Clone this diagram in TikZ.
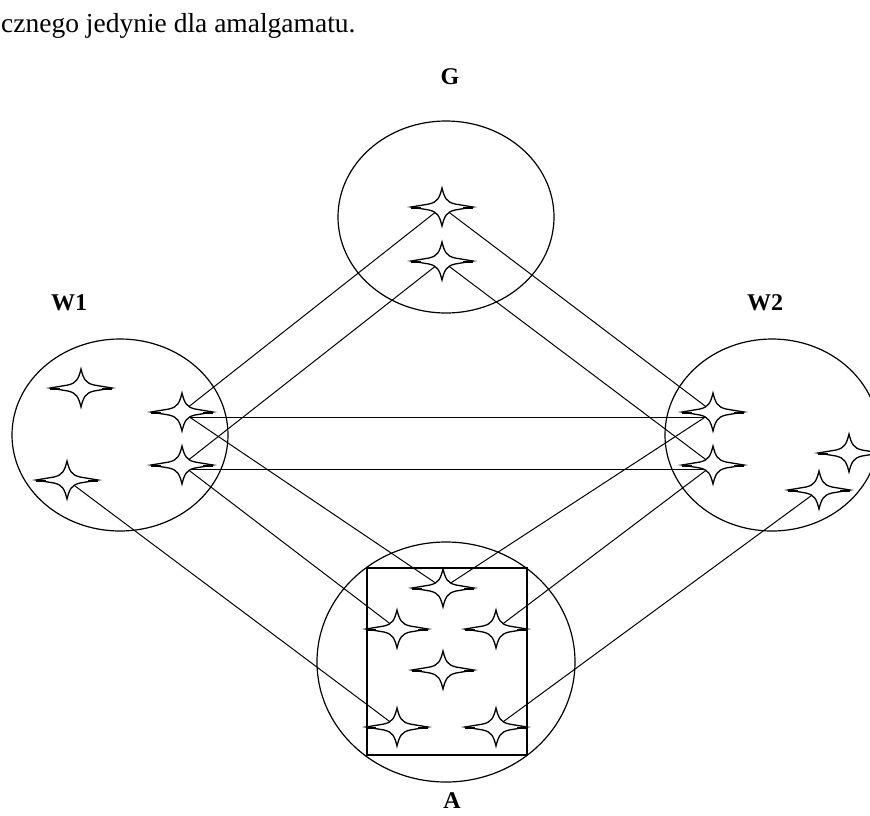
\documentclass[tikz,border=0pt]{standalone}
\usepackage{fontspec}
\setmainfont{Liberation Serif}
\usetikzlibrary{shapes.geometric}
\begin{document}
\begin{tikzpicture}[x=1pt,y=-1pt,
  ring/.style={draw, ellipse, line width=1.2pt, inner sep=0pt},
  box/.style={draw, line width=1.5pt},
  link/.style={line width=1pt},
  lbl/.style={font=\bfseries\fontsize{24}{26}\selectfont, inner sep=0pt},
  fourstar/.pic={
    \draw[fill=white, line width=1.3pt, line join=miter]
      (0,-19) .. controls (2.5,-9) and (4.5,-5) .. (13,-3) -- (31,0)
      -- (13,3) .. controls (4.5,5) and (2.5,9) .. (0,19)
      .. controls (-2.5,9) and (-4.5,5) .. (-13,3) -- (-31,0)
      -- (-13,-3) .. controls (-4.5,-5) and (-2.5,-9) .. (0,-19) -- cycle;
    \draw[line width=2pt] (-31,0.5) -- (-21,0.5) (21,0.5) -- (31,0.5);
  }]
\useasboundingbox (0,0) rectangle (870,815);
\fill[white] (0,0) rectangle (870,815);

% top text
\node[anchor=base west, inner sep=0pt, font=\fontsize{27.5}{30}\selectfont] (txt) at (1,32) {cznego jedynie dla amalgamatu.};

% circles
\node[ring, minimum width=216pt, minimum height=192pt] (G) at (446,217) {};
\node[ring, minimum width=216pt, minimum height=192pt] (W1) at (120,435) {};
\node[ring, minimum width=214pt, minimum height=192pt] (W2) at (772,435) {};
\node[ring, minimum width=258pt, minimum height=240pt] (A) at (446,662) {};
\node[box, minimum width=160pt, minimum height=187pt, inner sep=0pt] (Abox) at (447,661.5) {};

% labels
\node[lbl] (lG) at (450,77) {G};
\node[lbl] (lW1) at (69,303) {W1};
\node[lbl] (lW2) at (765,303) {W2};
\node[lbl] (lA) at (452,801) {A};

% star positions
\coordinate (g1) at (442,207);
\coordinate (g2) at (442,261);
\coordinate (u1) at (81,388);
\coordinate (u2) at (182,412);
\coordinate (u3) at (182,465);
\coordinate (u4) at (67,480);
\coordinate (v1) at (713,412);
\coordinate (v2) at (713,465);
\coordinate (v3) at (849,453);
\coordinate (v4) at (819,490);
\coordinate (a1) at (443,588);
\coordinate (a2) at (397,629);
\coordinate (a3) at (496,629);
\coordinate (a4) at (443,670);
\coordinate (a5) at (397,727);
\coordinate (a6) at (496,727);

% connectors
\draw[link] (g1) -- (u2);
\draw[link] (g2) -- (u3);
\draw[link] (g1) -- (v1);
\draw[link] (g2) -- (v2);
\draw[link] ([yshift=-5pt]u2) -- ([yshift=-5pt]v1);
\draw[link] ([yshift=-4pt]u3) -- ([yshift=-4pt]v2);
\draw[link] (u2) -- (a1);
\draw[link] (u3) -- (a2);
\draw[link] (u4) -- (a5);
\draw[link] (v1) -- (a1);
\draw[link] (v2) -- (a3);
\draw[link] (v4) -- (a6);

% stars
\foreach \s in {g1,g2,u1,u2,u3,u4,v1,v2,v3,v4,a1,a2,a3,a4,a5,a6}
  \pic at (\s) {fourstar};
\end{tikzpicture}
\end{document}
